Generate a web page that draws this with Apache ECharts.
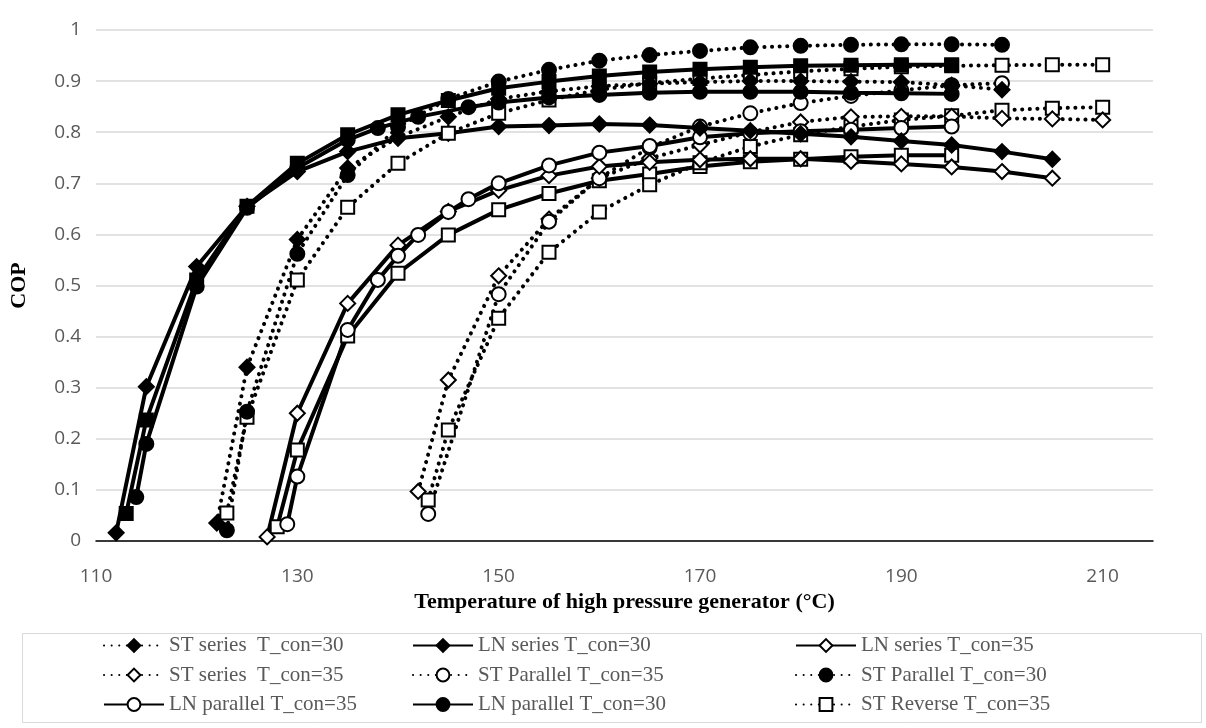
<!DOCTYPE html>
<html>
<head>
<meta charset="utf-8">
<script src="https://cdn.jsdelivr.net/npm/echarts@6/dist/echarts.min.js"></script>
<style>
html,body{margin:0;padding:0;background:#fff;}
#chart{width:1206px;height:728px;}
</style>
</head>
<body>
<div id="chart"></div>
<script>
// ---- Data (temperature in °C, COP) ----
const xTicks = [110, 130, 150, 170, 190, 210];

const tSTser30 = [122, 125, 130, 135, 140, 145, 150, 155, 160, 165, 170, 175, 180, 185, 190, 195, 200];
const cSTser30 = [0.035, 0.34, 0.59, 0.73, 0.79, 0.83, 0.865, 0.88, 0.89, 0.895, 0.898, 0.90, 0.90, 0.899, 0.898, 0.892, 0.883];

const tLNser30 = [112, 115, 120, 125, 130, 135, 140, 145, 150, 155, 160, 165, 170, 175, 180, 185, 190, 195, 200, 205];
const cLNser30 = [0.016, 0.302, 0.537, 0.655, 0.723, 0.762, 0.788, 0.798, 0.811, 0.813, 0.816, 0.814, 0.808, 0.803, 0.797, 0.791, 0.783, 0.775, 0.762, 0.747];

const tLNser35 = [127, 130, 135, 140, 145, 150, 155, 160, 165, 170, 175, 180, 185, 190, 195, 200, 205];
const cLNser35 = [0.008, 0.25, 0.465, 0.579, 0.645, 0.686, 0.715, 0.733, 0.741, 0.746, 0.748, 0.748, 0.743, 0.738, 0.732, 0.723, 0.71];

const tSTser35 = [142, 145, 150, 155, 160, 165, 170, 175, 180, 185, 190, 195, 200, 205, 210];
const cSTser35 = [0.097, 0.315, 0.519, 0.63, 0.71, 0.749, 0.775, 0.80, 0.82, 0.83, 0.831, 0.831, 0.827, 0.826, 0.824];

const tSTpar35 = [143, 150, 155, 160, 165, 170, 175, 180, 185, 190, 195, 200];
const cSTpar35 = [0.053, 0.483, 0.625, 0.71, 0.77, 0.811, 0.837, 0.857, 0.871, 0.882, 0.892, 0.896];

const tSTpar30 = [123, 125, 130, 135, 140, 145, 150, 155, 160, 165, 170, 175, 180, 185, 190, 195, 200];
const cSTpar30 = [0.021, 0.253, 0.562, 0.716, 0.81, 0.865, 0.899, 0.922, 0.94, 0.951, 0.959, 0.966, 0.969, 0.971, 0.972, 0.972, 0.971];

const tLNpar35 = [129, 130, 135, 138, 140, 142, 145, 147, 150, 155, 160, 165, 170, 175, 180, 185, 190, 195];
const cLNpar35 = [0.033, 0.126, 0.413, 0.511, 0.558, 0.599, 0.644, 0.669, 0.70, 0.735, 0.76, 0.773, 0.79, 0.798, 0.802, 0.805, 0.808, 0.811];

const tLNpar30 = [114, 115, 120, 125, 130, 135, 138, 142, 147, 150, 155, 160, 165, 170, 175, 180, 185, 190, 195];
const cLNpar30 = [0.086, 0.19, 0.498, 0.652, 0.73, 0.785, 0.808, 0.830, 0.849, 0.858, 0.868, 0.873, 0.877, 0.879, 0.879, 0.879, 0.877, 0.876, 0.875];

const tSTrev35 = [143, 145, 150, 155, 160, 165, 170, 175, 180, 185, 190, 195, 200, 205, 210];
const cSTrev35 = [0.08, 0.217, 0.436, 0.565, 0.644, 0.697, 0.74, 0.772, 0.795, 0.811, 0.824, 0.832, 0.843, 0.847, 0.849];

// curves drawn in the chart but not listed in its legend
const tLNrev30 = [113, 115, 120, 125, 130, 135, 140, 145, 150, 155, 160, 165, 170, 175, 180, 185, 190, 195];
const cLNrev30 = [0.054, 0.237, 0.511, 0.655, 0.739, 0.795, 0.834, 0.862, 0.886, 0.899, 0.91, 0.918, 0.923, 0.927, 0.93, 0.931, 0.932, 0.932];

const tLNrev35 = [128, 130, 135, 140, 145, 150, 155, 160, 165, 170, 175, 180, 185, 190, 195];
const cLNrev35 = [0.028, 0.178, 0.401, 0.524, 0.599, 0.648, 0.68, 0.705, 0.718, 0.733, 0.742, 0.747, 0.752, 0.755, 0.755];

const tSTrev30 = [123, 125, 130, 135, 140, 145, 150, 155, 160, 165, 170, 175, 180, 185, 190, 195, 200, 205, 210];
const cSTrev30 = [0.055, 0.242, 0.511, 0.653, 0.739, 0.798, 0.837, 0.863, 0.883, 0.896, 0.905, 0.912, 0.919, 0.924, 0.928, 0.93, 0.931, 0.932, 0.932];

// ---- Build ----
function pairs(t, c) { return t.map((x, i) => [x, c[i]]); }
const symSize = { diamond: 15, circle: 14, rect: 13 };
function mk(name, t, c, dotted, symbol, filled) {
  return {
    name: name,
    type: 'line',
    data: pairs(t, c),
    symbol: symbol,
    symbolSize: symSize[symbol],
    showSymbol: true,
    showAllSymbol: true,
    z: 2,
    lineStyle: dotted
      ? { color: '#000', width: 4, type: [0.1, 7.5], cap: 'round' }
      : { color: '#000', width: 4, type: 'solid' },
    itemStyle: { color: filled ? '#000' : '#fff', borderColor: '#000', borderWidth: 2, opacity: 1 },
    emphasis: { disabled: true },
    animation: false
  };
}

const series = [
  mk('LN Reverse T_con=35', tLNrev35, cLNrev35, false, 'rect', false),
  mk('ST Reverse T_con=35', tSTrev35, cSTrev35, true, 'rect', false),
  mk('ST series  T_con=35', tSTser35, cSTser35, true, 'diamond', false),
  mk('ST Parallel T_con=35', tSTpar35, cSTpar35, true, 'circle', false),
  mk('LN series T_con=35', tLNser35, cLNser35, false, 'diamond', false),
  mk('LN parallel T_con=35', tLNpar35, cLNpar35, false, 'circle', false),
  mk('LN series T_con=30', tLNser30, cLNser30, false, 'diamond', true),
  mk('ST Reverse T_con=30', tSTrev30, cSTrev30, true, 'rect', false),
  mk('LN parallel T_con=30', tLNpar30, cLNpar30, false, 'circle', true),
  mk('ST series  T_con=30', tSTser30, cSTser30, true, 'diamond', true),
  mk('LN Reverse T_con=30', tLNrev30, cLNrev30, false, 'rect', true),
  mk('ST Parallel T_con=30', tSTpar30, cSTpar30, true, 'circle', true)
];

const legendText = { fontFamily: '"Liberation Serif", "Times New Roman", serif', fontSize: 21, color: '#595959', lineHeight: 21 };
function legendCol(names, left) {
  return {
    data: names, orient: 'vertical', left: left, top: 635,
    itemWidth: 60, itemHeight: 16, itemGap: 8.5,
    textStyle: legendText, selectedMode: false, padding: 0
  };
}

const option = {
  backgroundColor: '#fff',
  animation: false,
  grid: { left: 93, right: 53, top: 30, bottom: 187, containLabel: false },
  xAxis: {
    type: 'value', min: 110, max: 215, interval: 20,
    name: 'Temperature of high pressure generator (°C)',
    nameLocation: 'middle', nameGap: 50,
    nameTextStyle: { fontFamily: '"Liberation Serif", "Times New Roman", serif', fontWeight: 'bold', fontSize: 22, color: '#000' },
    axisLine: { show: true, lineStyle: { color: '#000', width: 1.5 } },
    axisTick: { show: false },
    splitLine: { show: false },
    axisLabel: { showMaxLabel: false, margin: 26, fontFamily: '"Open Sans", sans-serif', fontSize: 19, color: '#595959',
      formatter: v => (xTicks.indexOf(v) >= 0 ? String(v) : '') }
  },
  yAxis: {
    type: 'value', min: 0, max: 1, interval: 0.1,
    name: 'COP', nameLocation: 'middle', nameGap: 66, nameRotate: 90,
    nameTextStyle: { fontFamily: '"Liberation Serif", "Times New Roman", serif', fontWeight: 'bold', fontSize: 22, color: '#000' },
    axisLine: { show: false }, axisTick: { show: false },
    splitLine: { show: true, lineStyle: { color: '#d9d9d9', width: 1.5 } },
    axisLabel: { margin: 15, fontFamily: '"Open Sans", sans-serif', fontSize: 19, color: '#595959',
      formatter: v => String(Math.round(v * 10) / 10) }
  },
  legend: [
    legendCol(['ST series  T_con=30', 'ST series  T_con=35', 'LN parallel T_con=35'], 103),
    legendCol(['LN series T_con=30', 'ST Parallel T_con=35', 'LN parallel T_con=30'], 412),
    legendCol(['LN series T_con=35', 'ST Parallel T_con=30', 'ST Reverse T_con=35'], 795)
  ],
  graphic: [
    { type: 'rect', left: 20, top: 631, shape: { width: 1179, height: 89 }, style: { fill: 'none', stroke: '#d9d9d9', lineWidth: 1 }, silent: true }
  ],
  series: series
};

const chart = echarts.init(document.getElementById('chart'), null, { renderer: 'canvas' });
chart.setOption(option);
</script>
</body>
</html>
